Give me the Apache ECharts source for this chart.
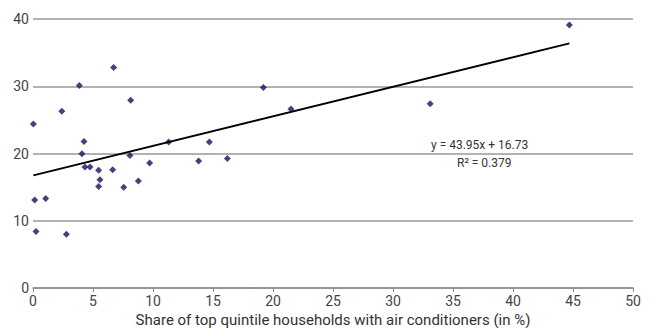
<!DOCTYPE html>
<html>
<head>
<meta charset="utf-8">
<script src="https://cdn.jsdelivr.net/npm/echarts@6/dist/echarts.min.js"></script>
<style>
  html, body { margin: 0; padding: 0; background: #fff; }
  #chart { width: 655px; height: 328px; }
</style>
</head>
<body>
<div id="chart"></div>
<script>
// share of top quintile households with air conditioners (%)
var xValues = [0.03, 2.4, 3.86, 6.72, 8.14, 4.25, 4.08, 8.08, 11.3, 14.7,
  0.14, 0.25, 1.06, 2.78, 4.33, 4.75, 5.47, 5.58, 5.47, 6.64,
  7.56, 8.78, 9.72, 13.8, 16.2, 19.2, 21.5, 33.1, 44.7];
var yValues = [24.4, 26.3, 30.1, 32.8, 27.9, 21.8, 19.95, 19.7, 21.7, 21.7,
  13.1, 8.4, 13.3, 8.0, 18.0, 18.0, 17.5, 16.1, 15.1, 17.6,
  15.0, 15.9, 18.6, 18.9, 19.25, 29.8, 26.6, 27.4, 39.1];
var xTicks = [0, 5, 10, 15, 20, 25, 30, 35, 40, 45, 50];
var yTicks = [0, 10, 20, 30, 40];
var slope = 43.95;      // per unit share (x / 100)
var intercept = 16.73;
var rSquared = 0.379;

(function() {
  var font = 'Roboto, "Liberation Sans", sans-serif';
  var points = xValues.map(function(x, i) { return [x, yValues[i]]; });
  var xMin = Math.min.apply(null, xValues);
  var xMax = Math.max.apply(null, xValues);
  var trend = [xMin, xMax].map(function(x) { return [x, intercept + slope * x / 100]; });

  var chart = echarts.init(document.getElementById('chart'), null, { renderer: 'svg' });
  chart.setOption({
    animation: false,
    backgroundColor: '#fff',
    grid: { left: 33, right: 22, top: 19, bottom: 40, containLabel: false, outerBoundsMode: 'none' },
    xAxis: {
      type: 'value',
      min: xTicks[0], max: xTicks[xTicks.length - 1], interval: 5,
      name: 'Share of top quintile households with air conditioners (in %)',
      nameLocation: 'middle', nameGap: 24, nameMoveOverlap: false,
      nameTextStyle: { color: '#333', fontSize: 15, lineHeight: 15, fontFamily: font },
      axisLine: { show: true, lineStyle: { color: '#8c8c8c', width: 1.5 } },
      axisTick: { show: true, length: 4, lineStyle: { color: '#8c8c8c' } },
      axisLabel: { color: '#444', fontSize: 14, lineHeight: 14, fontFamily: font, margin: 6 },
      splitLine: { show: false }
    },
    yAxis: {
      type: 'value',
      min: yTicks[0], max: yTicks[yTicks.length - 1], interval: 10,
      axisLine: { show: false },
      axisTick: { show: false },
      axisLabel: { color: '#444', fontSize: 14, fontFamily: font, margin: 4 },
      splitLine: { show: true, lineStyle: { color: '#999', width: 1.5 } }
    },
    series: [
      {
        type: 'scatter',
        data: points,
        symbol: 'diamond',
        symbolSize: 7,
        itemStyle: { color: '#141460' },
        z: 3
      },
      {
        type: 'line',
        data: trend,
        symbol: 'none',
        lineStyle: { color: '#000', width: 2 },
        z: 4
      }
    ],
    graphic: [
      {
        type: 'text', left: 431, top: 139,
        style: { text: 'y = ' + slope.toFixed(2) + 'x + ' + intercept.toFixed(2), fill: '#333', fontSize: 12, fontFamily: font }
      },
      {
        type: 'text', left: 457, top: 157,
        style: { text: 'R² = ' + rSquared.toFixed(3), fill: '#333', fontSize: 12, fontFamily: font }
      }
    ]
  });

  window.addEventListener('resize', function() { chart.resize(); });
})();
</script>
</body>
</html>
